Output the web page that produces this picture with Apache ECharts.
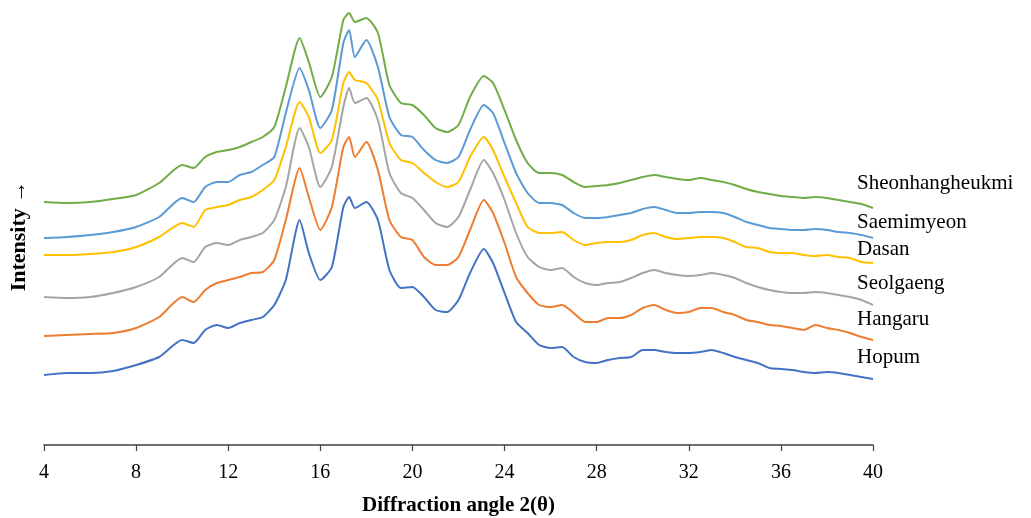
<!DOCTYPE html>
<html>
<head>
<meta charset="utf-8">
<script src="https://cdn.jsdelivr.net/npm/echarts@6/dist/echarts.min.js"></script>
<style>html,body{margin:0;padding:0;background:#fff}#c{width:1031px;height:518px}</style>
</head>
<body>
<div id="c"></div>
<script>
const angles = [4,5,6,7,8,9,10,
  10.5,11,11.5,12,12.5,13,13.5,14,14.5,15.1,15.5,16,16.5,17,17.25,17.5,18,18.5,19,19.5,20,20.5,21,21.5,22,22.5,23.1,23.5,24,24.5,25,25.5,
  26,26.5,27,27.5,28,28.5,29,29.5,30,30.5,31,31.5,32,32.5,33,33.5,34,34.5,35,35.5,36,36.5,37,37.5,38,38.5,39,39.5,40];

const hopum = [70,72,72,74,80,88,105,
  102,115,120,117,122,125,128,140,165,225,192,165,178,238,248,237,243,225,175,157,158,148,135,133,145,172,196,182,152,123,112,100,
  97,98,88,83,82,85,87,88,95,95,93,92,92,93,95,92,88,85,82,77,76,75,73,72,73,72,70,68,66];
const hangaru = [109,110,111,112,117,128,148,
  143,155,162,165,168,172,173,185,225,277,248,215,238,298,308,288,303,275,225,208,205,188,180,180,188,215,245,232,202,168,152,140,
  138,140,132,123,123,127,127,130,137,140,135,132,133,137,137,133,130,125,123,120,119,117,115,120,117,115,112,108,105];
const seolgaeng = [148,147,148,152,158,168,187,
  183,198,202,200,205,208,212,225,258,317,298,258,278,338,357,342,347,325,272,252,247,235,222,218,228,255,285,272,245,212,188,178,
  175,177,168,162,160,162,163,167,172,175,172,170,169,170,172,170,167,162,158,155,153,152,152,153,152,150,148,145,140];
const dasan = [190,190,191,193,198,208,222,
  218,235,238,240,245,248,255,265,298,343,328,292,305,362,373,365,362,345,302,285,282,272,263,258,263,288,308,295,268,242,218,212,
  212,213,205,200,202,203,203,205,210,212,208,206,207,208,208,207,203,198,197,193,192,192,190,189,190,188,187,183,182];
const saemimyeon = [207,208,210,213,218,228,247,
  243,258,263,263,270,273,280,288,332,377,355,317,335,402,415,388,405,378,328,310,308,295,285,282,288,315,340,332,302,272,252,242,
  242,240,232,227,227,228,230,232,236,238,235,232,232,233,233,232,228,223,220,217,216,215,215,216,215,213,212,210,207];
const sheonhangheukmi = [243,242,243,246,250,262,280,
  277,288,293,295,298,303,308,318,358,407,383,348,368,425,432,423,427,412,360,342,340,330,317,313,320,348,369,362,335,305,282,272,
  272,270,263,258,259,260,262,265,268,270,268,266,265,267,265,263,260,256,253,251,249,248,247,248,247,245,243,241,237];

const seriesNames = ['Hopum','Hangaru','Seolgaeng','Dasan','Saemimyeon','Sheonhangheukmi'];
const seriesValues = [hopum, hangaru, seolgaeng, dasan, saemimyeon, sheonhangheukmi];
const colors = ['#4472C4','#ED7D31','#A5A5A5','#FFC000','#5B9BD5','#70AD47'];
const xTicks = [4,8,12,16,20,24,28,32,36,40];

const serif = '"Liberation Serif","Times New Roman",serif';
const chart = echarts.init(document.getElementById('c'), null, {renderer:'canvas'});

const labelCenters = [357,319,283,249,222,183];

chart.setOption({
  animation:false,
  grid:{left:44,right:158,top:0,bottom:73,containLabel:false,outerBoundsMode:'none'},
  xAxis:{
    type:'value', min:xTicks[0], max:xTicks[xTicks.length-1], interval:4,
    axisLine:{lineStyle:{color:'#404040',width:1.5}},
    axisTick:{show:true,length:6,lineStyle:{color:'#404040',width:1.2}},
    axisLabel:{color:'#000',fontFamily:serif,fontSize:20,margin:18},
    splitLine:{show:false},
    name:'Diffraction angle 2(θ)', nameLocation:'middle', nameGap:50,
    nameTextStyle:{color:'#000',fontFamily:serif,fontSize:21,fontWeight:'bold'}
  },
  yAxis:{
    type:'value', min:0, max:445,
    axisLine:{show:false}, axisTick:{show:false}, axisLabel:{show:false}, splitLine:{show:false}
  },
  series: seriesNames.map((n,i)=>({
    name:n, type:'line', showSymbol:false, symbol:'none',
    smooth:0.2,
    data: angles.map((a,j)=>[a, seriesValues[i][j]]),
    lineStyle:{color:colors[i],width:2},
    z: 2+i
  })),
  graphic: seriesNames.map((n,i)=>({
    type:'text', x:857, y:labelCenters[i],
    style:{text:n, fill:'#000', font:'21px '+serif, textVerticalAlign:'middle', verticalAlign:'middle'}
  })).concat([{
    type:'text', x:19, y:236, rotation:Math.PI/2,
    style:{text:'Intensity →', fill:'#000', font:'bold 22px '+serif, align:'center', verticalAlign:'middle', textAlign:'center', textVerticalAlign:'middle'}
  }])
});
</script>
</body>
</html>
